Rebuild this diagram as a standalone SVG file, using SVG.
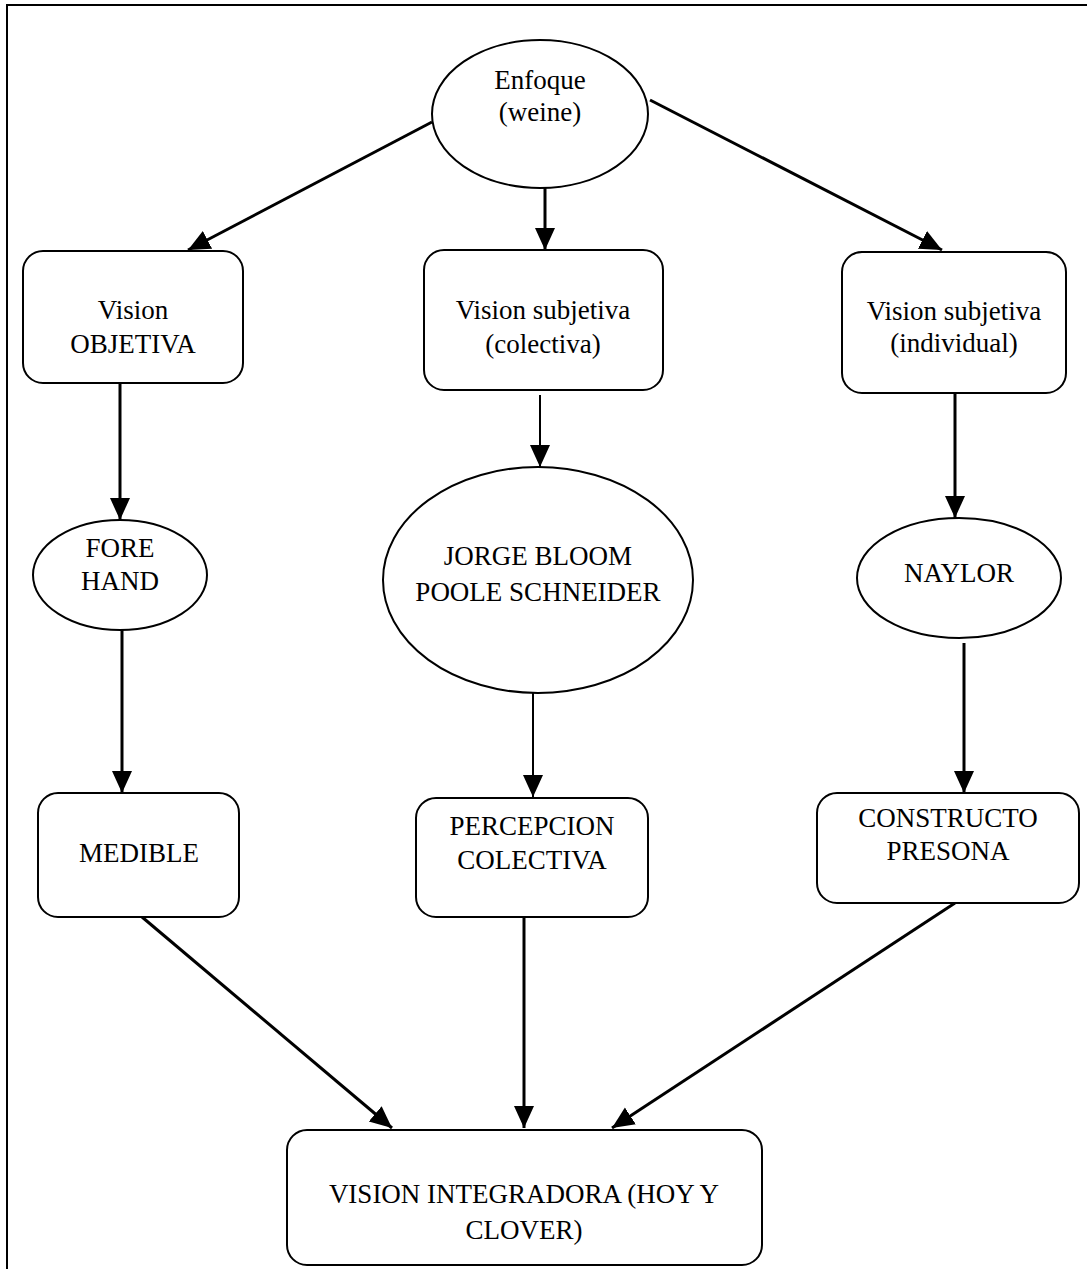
<svg xmlns="http://www.w3.org/2000/svg" width="1087" height="1269" viewBox="0 0 1087 1269">
<style>
.n{fill:#fff;stroke:#000;stroke-width:2}
.t{font-family:"Liberation Serif","Times New Roman",serif;font-size:27px;fill:#000;text-anchor:middle}
.c{fill:none;stroke:#000;stroke-width:3}
.c2{fill:none;stroke:#000;stroke-width:2}
</style>
<defs>
<marker id="ah" markerUnits="userSpaceOnUse" markerWidth="24" markerHeight="24" viewBox="0 0 24 24" refX="22" refY="12" orient="auto">
<path d="M0,2 L22,12 L0,22 Z" fill="#000"/>
</marker>
</defs>
<rect width="1087" height="1269" fill="#fff"/>
<path d="M7,1269 V5 H1087" fill="none" stroke="#000" stroke-width="2"/>
<g id="connectors">
<line class="c" x1="432" y1="122" x2="188" y2="250" marker-end="url(#ah)"/>
<line class="c" x1="545" y1="188" x2="545" y2="250" marker-end="url(#ah)"/>
<line class="c" x1="650" y1="100" x2="942" y2="250" marker-end="url(#ah)"/>
<line class="c" x1="120" y1="383" x2="120" y2="520" marker-end="url(#ah)"/>
<line class="c2" x1="540" y1="395" x2="540" y2="467" marker-end="url(#ah)"/>
<line class="c" x1="955" y1="393" x2="955" y2="518" marker-end="url(#ah)"/>
<line class="c" x1="122" y1="627" x2="122" y2="793" marker-end="url(#ah)"/>
<line class="c2" x1="533" y1="693" x2="533" y2="797" marker-end="url(#ah)"/>
<line class="c" x1="964" y1="643" x2="964" y2="793" marker-end="url(#ah)"/>
<line class="c" x1="142" y1="917" x2="392" y2="1128" marker-end="url(#ah)"/>
<line class="c" x1="524" y1="917" x2="524" y2="1128" marker-end="url(#ah)"/>
<line class="c" x1="955" y1="903" x2="612" y2="1128" marker-end="url(#ah)"/>
</g>
<g id="enfoque">
<ellipse class="n" cx="540" cy="114" rx="108" ry="74"/>
<text class="t" x="540" y="89">Enfoque</text>
<text class="t" x="540" y="121">(weine)</text>
</g>
<g id="vision-objetiva">
<rect class="n" x="23" y="251" width="220" height="132" rx="20"/>
<text class="t" x="133" y="319">Vision</text>
<text class="t" x="133" y="353">OBJETIVA</text>
</g>
<g id="vision-colectiva">
<rect class="n" x="424" y="250" width="239" height="140" rx="20"/>
<text class="t" x="543" y="319">Vision subjetiva</text>
<text class="t" x="543" y="353">(colectiva)</text>
</g>
<g id="vision-individual">
<rect class="n" x="842" y="252" width="224" height="141" rx="20"/>
<text class="t" x="954" y="320">Vision subjetiva</text>
<text class="t" x="954" y="352">(individual)</text>
</g>
<g id="forehand">
<ellipse class="n" cx="120" cy="575" rx="87" ry="55"/>
<text class="t" x="120" y="557">FORE</text>
<text class="t" x="120" y="590">HAND</text>
</g>
<g id="jorge">
<ellipse class="n" cx="538" cy="580" rx="155" ry="113"/>
<text class="t" x="538" y="565">JORGE BLOOM</text>
<text class="t" x="538" y="601">POOLE SCHNEIDER</text>
</g>
<g id="naylor">
<ellipse class="n" cx="959" cy="578" rx="102" ry="60"/>
<text class="t" x="959" y="582">NAYLOR</text>
</g>
<g id="medible">
<rect class="n" x="38" y="793" width="201" height="124" rx="20"/>
<text class="t" x="139" y="862">MEDIBLE</text>
</g>
<g id="percepcion">
<rect class="n" x="416" y="798" width="232" height="119" rx="20"/>
<text class="t" x="532" y="835">PERCEPCION</text>
<text class="t" x="532" y="869">COLECTIVA</text>
</g>
<g id="constructo">
<rect class="n" x="817" y="793" width="262" height="110" rx="20"/>
<text class="t" x="948" y="827">CONSTRUCTO</text>
<text class="t" x="948" y="860">PRESONA</text>
</g>
<g id="integradora">
<rect class="n" x="287" y="1130" width="475" height="135" rx="20"/>
<text class="t" x="524" y="1203">VISION INTEGRADORA (HOY Y</text>
<text class="t" x="524" y="1239">CLOVER)</text>
</g>
</svg>
